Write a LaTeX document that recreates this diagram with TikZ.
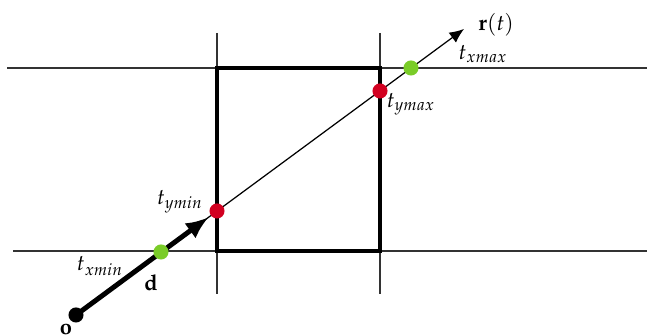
\documentclass[tikz,border=0pt]{standalone}
\usepackage{mathpazo}
\usetikzlibrary{arrows.meta, calc}
\definecolor{hitgreen}{RGB}{122,204,40}
\definecolor{hitred}{RGB}{210,0,32}

\begin{document}
\begin{tikzpicture}[
    x=0.017cm, y=-0.017cm,
    every node/.style={font=\fontsize{10.6}{12.5}\selectfont},
    slab/.style={line width=0.75pt, black!80},
    bbox/.style={line width=2pt, black},
    ray/.style={line width=0.6pt, -{Latex[length=7pt, width=6pt]}},
    dirvec/.style={line width=2.4pt, -{Latex[length=11pt, width=9pt]}},
    hit/.style={circle, fill=#1, inner sep=0pt, minimum size=7.3pt},
]
\useasboundingbox (0,0) rectangle (647,335);

% slab boundaries
\draw[slab] (7,68) -- (647,68);
\draw[slab] (13,251) -- (647,251);
\draw[slab] (217,33) -- (217,294);
\draw[slab] (380,33) -- (380,294);

% the box
\draw[bbox] (217,68) rectangle (380,251);

% points on the ray
\coordinate (po) at (76,315);
\coordinate (prt) at (464,29);
\coordinate (pxmin) at (161,252);
\coordinate (pymin) at (217,211);
\coordinate (pymax) at (380,91);
\coordinate (pxmax) at (411,68);

% ray and direction
\draw[ray] (po) -- (prt);
\draw[dirvec] (po) -- ($(po)!0.94!(pymin)$);

% hits
\node[hit=black] (orig) at (po) {};
\node[hit=hitgreen] (xmin) at (pxmin) {};
\node[hit=hitred] (ymin) at (pymin) {};
\node[hit=hitred] (ymax) at (pymax) {};
\node[hit=hitgreen] (xmax) at (pxmax) {};

% labels
\node (rlab) at (496,25) {$\mathbf{r}(t)$};
\node (txmax) at (483,54) {$t_{xmax}$};
\node (tymax) at (411,104) {$t_{ymax}$};
\node (tymin) at (180,202) {$t_{ymin}$};
\node (txmin) at (100,266) {$t_{xmin}$};
\node (dlab) at (151,283) {$\mathbf{d}$};
\node (olab) at (66,330) {$\mathbf{o}$};

\end{tikzpicture}
\end{document}
